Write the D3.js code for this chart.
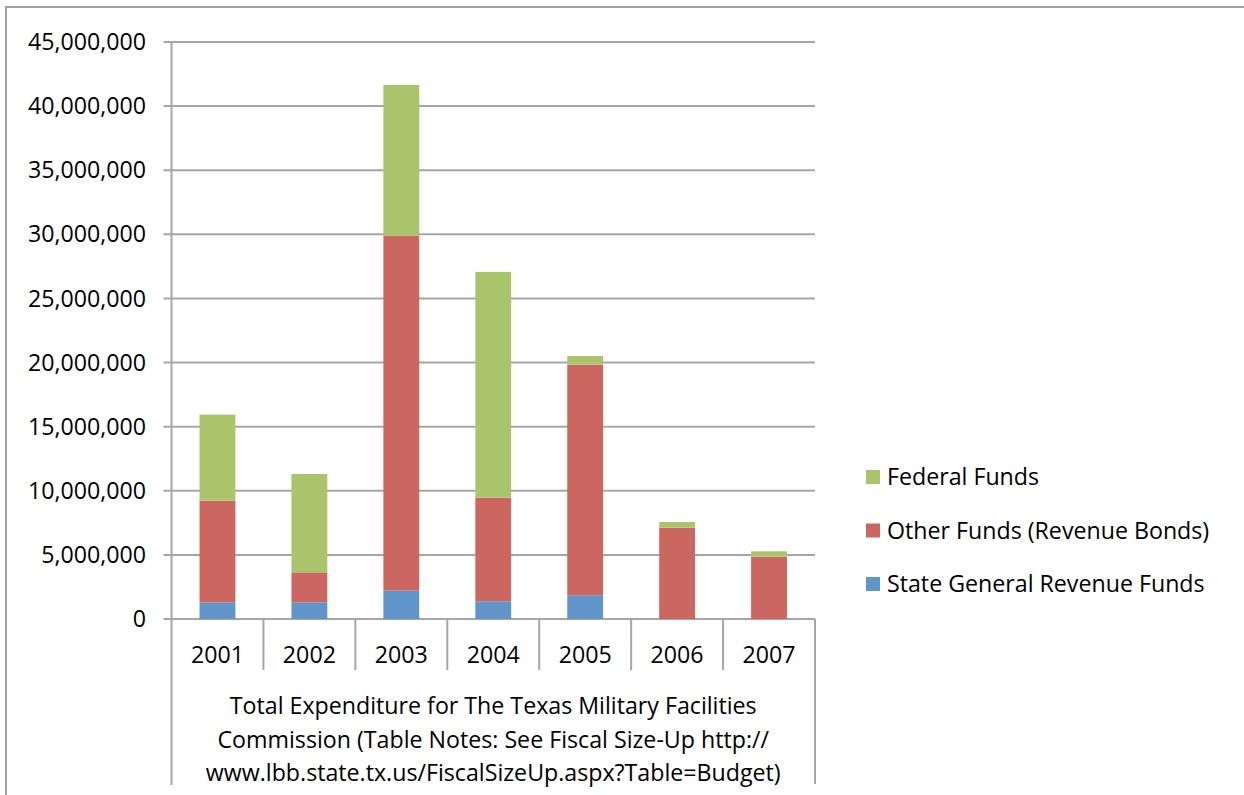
<!DOCTYPE html>
<html>
<head>
<meta charset="utf-8">
<script src="https://cdn.jsdelivr.net/npm/d3@7"></script>
<style>
  html, body { margin: 0; padding: 0; background: #fff; }
  svg { display: block; }
  text { font-family: "Open Sans", Lato, sans-serif; fill: #000; }
</style>
</head>
<body>
<svg id="chart" width="1244" height="795"></svg>
<script>
// Fiscal years on the category axis
const years = ["2001", "2002", "2003", "2004", "2005", "2006", "2007"];

// Expenditure by funding source (dollars)
const stateGeneralRevenue = [1300000, 1300000, 2210000, 1380000, 1850000, 0, 0];
const otherFunds = [7930000, 2340000, 27690000, 8080000, 17990000, 7120000, 4860000];
const federalFunds = [6710000, 7670000, 11750000, 17610000, 670000, 450000, 420000];

// Value axis ticks
const yTicks = [0, 5000000, 10000000, 15000000, 20000000, 25000000, 30000000, 35000000, 40000000, 45000000];

const seriesNames = ["State General Revenue Funds", "Other Funds (Revenue Bonds)", "Federal Funds"];
const seriesColors = ["#6095c9", "#cc6660", "#aac46c"];
const titleLines = [
  "Total Expenditure for The Texas Military Facilities",
  "Commission (Table Notes: See Fiscal Size-Up http://",
  "www.lbb.state.tx.us/FiscalSizeUp.aspx?Table=Budget)"
];

const svg = d3.select("#chart");
const gridColor = "#a6a6a6";
const fontSize = 23.2;

// Outer chart frame (open on the right and bottom)
svg.append("path")
  .attr("d", "M6,795 V7 H1244")
  .attr("fill", "none")
  .attr("stroke", "#a0a0a0")
  .attr("stroke-width", 2);

const plot = { left: 171.5, right: 815, top: 42, bottom: 619 };

const x = d3.scaleBand()
  .domain(years)
  .range([plot.left, plot.right])
  .paddingInner(0.61)
  .paddingOuter(0.305);

const xBand = d3.scaleBand().domain(years).range([plot.left, plot.right]);

const y = d3.scaleLinear()
  .domain([0, 45000000])
  .range([plot.bottom, plot.top]);

// Horizontal gridlines
svg.append("g")
  .selectAll("line")
  .data(yTicks)
  .join("line")
  .attr("x1", plot.left - 8)
  .attr("x2", plot.right)
  .attr("y1", d => y(d))
  .attr("y2", d => y(d))
  .attr("stroke", gridColor)
  .attr("stroke-width", 2);

// Y tick labels
svg.append("g")
  .selectAll("text")
  .data(yTicks)
  .join("text")
  .attr("x", 146)
  .attr("y", d => y(d))
  .attr("dy", "0.35em")
  .attr("text-anchor", "end")
  .attr("font-size", fontSize)
  .text(d => d3.format(",")(d));

// Stacked bars
const rows = years.map((yr, i) => ({
  year: yr,
  s0: stateGeneralRevenue[i],
  s1: otherFunds[i],
  s2: federalFunds[i]
}));
const stack = d3.stack().keys(["s0", "s1", "s2"]);
const layers = stack(rows);

svg.append("g")
  .selectAll("g")
  .data(layers)
  .join("g")
  .attr("fill", (d, i) => seriesColors[i])
  .selectAll("rect")
  .data(d => d)
  .join("rect")
  .attr("x", d => x(d.data.year))
  .attr("width", x.bandwidth())
  .attr("y", d => y(d[1]))
  .attr("height", d => Math.max(0, y(d[0]) - y(d[1])));

// Y axis line
svg.append("line")
  .attr("x1", plot.left).attr("x2", plot.left)
  .attr("y1", plot.top).attr("y2", 785)
  .attr("stroke", gridColor).attr("stroke-width", 2);

// Right boundary of the category table
svg.append("line")
  .attr("x1", plot.right).attr("x2", plot.right)
  .attr("y1", plot.bottom).attr("y2", 784)
  .attr("stroke", gridColor).attr("stroke-width", 2);

// Category separators below the axis
svg.append("g")
  .selectAll("line")
  .data(years.slice(1))
  .join("line")
  .attr("x1", d => xBand(d))
  .attr("x2", d => xBand(d))
  .attr("y1", plot.bottom)
  .attr("y2", 670)
  .attr("stroke", gridColor)
  .attr("stroke-width", 2);

// Category labels
svg.append("g")
  .selectAll("text")
  .data(years)
  .join("text")
  .attr("x", d => xBand(d) + xBand.bandwidth() / 2)
  .attr("y", 655)
  .attr("dy", "0.35em")
  .attr("text-anchor", "middle")
  .attr("font-size", fontSize)
  .text(d => d);

// Axis title beneath the categories
svg.append("g")
  .selectAll("text")
  .data(titleLines)
  .join("text")
  .attr("x", (plot.left + plot.right) / 2)
  .attr("y", (d, i) => 706 + i * 33.5)
  .attr("dy", "0.35em")
  .attr("text-anchor", "middle")
  .attr("font-size", fontSize)
  .text(d => d);

// Legend (top entry is the top stack layer)
const legendItems = [2, 1, 0];
const legend = svg.append("g")
  .selectAll("g")
  .data(legendItems)
  .join("g")
  .attr("transform", (d, i) => `translate(866, ${477 + i * 53.5})`);

legend.append("rect")
  .attr("x", 0).attr("y", -7)
  .attr("width", 14).attr("height", 14)
  .attr("fill", d => seriesColors[d]);

legend.append("text")
  .attr("x", 21)
  .attr("y", 0)
  .attr("dy", "0.35em")
  .attr("font-size", fontSize)
  .text(d => seriesNames[d]);
</script>
</body>
</html>
